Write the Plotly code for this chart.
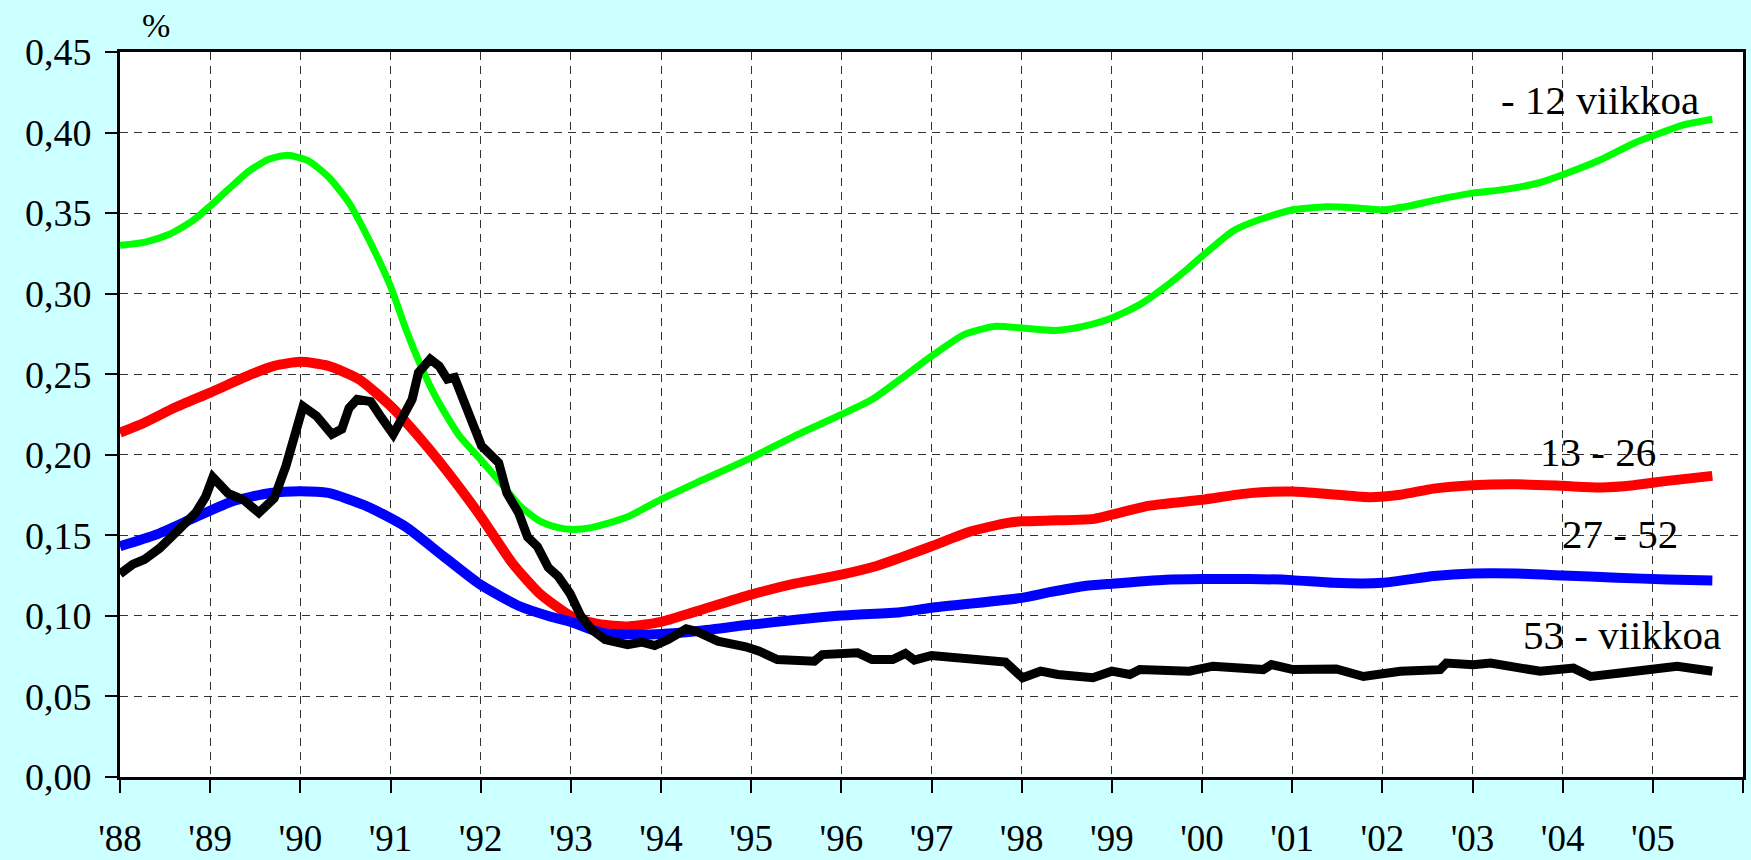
import plotly.graph_objects as go

# ---- data (decimal years, %) ----
x_green = [1988.0, 1988.28, 1988.54, 1988.8, 1989.0, 1989.2, 1989.43, 1989.65, 1989.86, 1990.09,
           1990.32, 1990.54, 1990.76, 1991.0, 1991.17, 1991.33, 1991.5, 1991.76, 1992.0, 1992.23,
           1992.44, 1992.65, 1992.85, 1993.0, 1993.23, 1993.61, 1994.0, 1994.39, 1995.0, 1995.48,
           1996.0, 1996.34, 1996.65, 1997.0, 1997.36, 1997.71, 1998.0, 1998.38, 1998.68, 1999.0,
           1999.31, 1999.6, 1999.83, 2000.0, 2000.34, 2000.64, 2001.0, 2001.38, 2001.68, 2002.0,
           2002.27, 2002.64, 2003.0, 2003.38, 2003.75, 2004.0, 2004.42, 2004.79, 2005.0, 2005.34, 2005.66]
y_green = [0.330, 0.332, 0.3367, 0.345, 0.3544, 0.3647, 0.3761, 0.3834, 0.3859, 0.3824,
           0.372, 0.3564, 0.3336, 0.3046, 0.278, 0.2560, 0.236, 0.212, 0.197, 0.182,
           0.168, 0.159, 0.155, 0.1537, 0.1548, 0.161, 0.1723, 0.1826, 0.1981, 0.2116,
           0.225, 0.2343, 0.2467, 0.2612, 0.2746, 0.2798, 0.2787, 0.2772, 0.2797, 0.2849,
           0.2932, 0.3046, 0.3149, 0.3232, 0.3388, 0.346, 0.3519, 0.3539, 0.3533, 0.352,
           0.3541, 0.3587, 0.3624, 0.3649, 0.369, 0.3738, 0.3831, 0.3934, 0.398, 0.4048, 0.4083]

x_red = [1988.0, 1988.27, 1988.61, 1989.0, 1989.46, 1989.71, 1990.0, 1990.31, 1990.65, 1991.0,
         1991.37, 1991.67, 1992.0, 1992.35, 1992.65, 1993.0, 1993.3, 1993.65, 1994.0, 1994.39,
         1995.0, 1995.48, 1996.0, 1996.38, 1996.65, 1997.0, 1997.44, 1997.83, 1998.0, 1998.4,
         1998.8, 1999.0, 1999.42, 2000.0, 2000.53, 2001.0, 2001.46, 2001.86, 2002.2, 2002.57,
         2003.0, 2003.49, 2004.0, 2004.42, 2004.79, 2005.16, 2005.66]
y_red = [0.2137, 0.2199, 0.2293, 0.2386, 0.25, 0.2552, 0.2577, 0.2552, 0.2469, 0.2303,
         0.2075, 0.1867, 0.1618, 0.1328, 0.1141, 0.100, 0.0950, 0.0935, 0.0963, 0.1028,
         0.1132, 0.12, 0.1256, 0.1308, 0.136, 0.1432, 0.1525, 0.1576, 0.1587, 0.1593,
         0.1602, 0.1628, 0.1684, 0.1721, 0.1762, 0.1772, 0.1754, 0.1737, 0.1752, 0.179,
         0.1811, 0.1817, 0.1807, 0.1797, 0.1811, 0.1838, 0.1869]

x_blue = [1988.0, 1988.4, 1988.82, 1989.25, 1989.67, 1990.0, 1990.31, 1990.74, 1991.16, 1991.59,
          1992.0, 1992.44, 1992.76, 1993.0, 1993.34, 1993.73, 1994.0, 1994.39, 1995.0, 1996.0,
          1996.65, 1997.0, 1998.0, 1998.31, 1998.68, 1999.0, 1999.6, 2000.0, 2000.53, 2001.0,
          2001.46, 2002.0, 2002.57, 2003.0, 2003.49, 2004.0, 2004.6, 2005.16, 2005.66]
y_blue = [0.1432, 0.1504, 0.1608, 0.1712, 0.1763, 0.1774, 0.1763, 0.168, 0.1556, 0.1369,
          0.1193, 0.1058, 0.0998, 0.0963, 0.0895, 0.0885, 0.0888, 0.0905, 0.0946, 0.1002,
          0.1023, 0.105, 0.1112, 0.1147, 0.1184, 0.12, 0.1225, 0.1229, 0.1229, 0.1222,
          0.1205, 0.1205, 0.1247, 0.1263, 0.1263, 0.1251, 0.1237, 0.1226, 0.122]

x_black = [1988.0, 1988.14, 1988.27, 1988.44, 1988.65, 1988.84, 1988.95, 1989.03, 1989.2, 1989.37,
           1989.54, 1989.71, 1989.84, 1989.93, 1990.03, 1990.18, 1990.35, 1990.46, 1990.54, 1990.63,
           1990.78, 1990.9, 1991.03, 1991.16, 1991.24, 1991.31, 1991.44, 1991.54, 1991.63, 1991.71,
           1991.86, 1992.01, 1992.2, 1992.29, 1992.42, 1992.52, 1992.63, 1992.75, 1992.86, 1992.99,
           1993.11, 1993.23, 1993.38, 1993.63, 1993.79, 1993.93, 1994.08, 1994.28, 1994.39, 1994.63,
           1994.94, 1995.09, 1995.29, 1995.48, 1995.7, 1995.79, 1996.18, 1996.34, 1996.57, 1996.71,
           1996.81, 1997.0, 1997.23, 1997.62, 1997.82, 1998.01, 1998.21, 1998.4, 1998.79, 1999.0,
           1999.2, 1999.31, 1999.57, 1999.86, 2000.12, 2000.38, 2000.68, 2000.77, 2001.01, 2001.49,
           2001.79, 2002.2, 2002.64, 2002.71, 2003.01, 2003.2, 2003.46, 2003.75, 2004.12, 2004.31,
           2004.64, 2004.97, 2005.27, 2005.66]
y_black = [0.126, 0.132, 0.135, 0.142, 0.1535, 0.164, 0.174, 0.186, 0.176, 0.172,
           0.164, 0.173, 0.193, 0.2095, 0.230, 0.224, 0.2127, 0.216, 0.229, 0.2344,
           0.233, 0.223, 0.2127, 0.226, 0.2344, 0.251, 0.2593, 0.255, 0.247, 0.248,
           0.226, 0.2054, 0.195, 0.1763, 0.164, 0.149, 0.143, 0.130, 0.1245, 0.114,
           0.100, 0.0915, 0.0853, 0.0822, 0.0837, 0.0816, 0.0853, 0.092, 0.0905, 0.0843,
           0.0808, 0.0781, 0.0729, 0.0725, 0.0719, 0.076, 0.0771, 0.0729, 0.0729, 0.0767,
           0.0725, 0.0754, 0.0746, 0.0733, 0.0713, 0.0616, 0.0657, 0.0636, 0.0616, 0.0657,
           0.0636, 0.0667, 0.0657, 0.0657, 0.0688, 0.0678, 0.0667, 0.0698, 0.0667, 0.0671,
           0.0624, 0.0656, 0.0666, 0.0707, 0.0697, 0.0707, 0.0683, 0.0656, 0.0676, 0.0624,
           0.0645, 0.0662, 0.0687, 0.0656]

x_tickvals = list(range(1988, 2007))
x_ticktext = ["'88", "'89", "'90", "'91", "'92", "'93", "'94", "'95", "'96", "'97",
              "'98", "'99", "'00", "'01", "'02", "'03", "'04", "'05", ""]
y_tickvals = [0.0, 0.05, 0.10, 0.15, 0.20, 0.25, 0.30, 0.35, 0.40, 0.45]
y_ticktext = ["0,00", "0,05", "0,10", "0,15", "0,20", "0,25", "0,30", "0,35", "0,40", "0,45"]

labels = ["- 12 viikkoa", "13 - 26", "27 - 52", "53 - viikkoa"]
label_x = [2004.41, 2004.39, 2004.64, 2004.66]
label_y = [0.420, 0.202, 0.151, 0.088]

FONT = "Liberation Serif"

fig = go.Figure()
fig.add_trace(go.Scatter(x=x_green, y=y_green, mode="lines", name=labels[0],
                         line=dict(color="#00FF00", width=7, shape="spline", smoothing=0.6)))
fig.add_trace(go.Scatter(x=x_red, y=y_red, mode="lines", name=labels[1],
                         line=dict(color="#FF0000", width=10, shape="spline", smoothing=0.6)))
fig.add_trace(go.Scatter(x=x_blue, y=y_blue, mode="lines", name=labels[2],
                         line=dict(color="#0000FF", width=10, shape="spline", smoothing=0.6)))
fig.add_trace(go.Scatter(x=x_black, y=y_black, mode="lines", name=labels[3],
                         line=dict(color="#000000", width=9)))

for t, lx, ly in zip(labels, label_x, label_y):
    fig.add_annotation(x=lx, y=ly, xref="x", yref="y", text=t, showarrow=False,
                       font=dict(family=FONT, size=41, color="black"),
                       xanchor="center", yanchor="middle")

fig.add_annotation(x=0.0222, y=1.037, xref="paper", yref="paper", text="%", showarrow=False,
                   font=dict(family=FONT, size=34, color="black"),
                   xanchor="center", yanchor="middle")

grid = dict(showgrid=True, gridcolor="#333333", gridwidth=1, griddash="8px,6px")

fig.update_xaxes(range=[1988, 2006.0], tickmode="array", tickvals=x_tickvals, ticktext=x_ticktext,
                 ticks="outside", ticklen=13, tickwidth=1.5, tickcolor="black",
                 showline=True, linecolor="black", linewidth=3, mirror=True, automargin=False,
                 zeroline=False, tickfont=dict(family=FONT, size=37, color="black"),
                 ticklabelstandoff=14, **grid)
fig.update_yaxes(range=[0, 0.45], tickmode="array", tickvals=y_tickvals, ticktext=y_ticktext,
                 ticks="outside", ticklen=12, tickwidth=1.5, tickcolor="black",
                 showline=True, linecolor="black", linewidth=3, mirror=True, automargin=False,
                 zeroline=False, tickfont=dict(family=FONT, size=38, color="black"),
                 ticklabelstandoff=6, **grid)

fig.update_layout(width=1751, height=860, showlegend=False,
                  paper_bgcolor="#CCFFFF", plot_bgcolor="white",
                  margin=dict(l=120, r=8, t=52, b=83),
                  font=dict(family=FONT, color="black"))

fig.write_html("out.html", config={"displayModeBar": False},
               post_script="document.body.style.margin='0';document.body.style.overflow='hidden';")
